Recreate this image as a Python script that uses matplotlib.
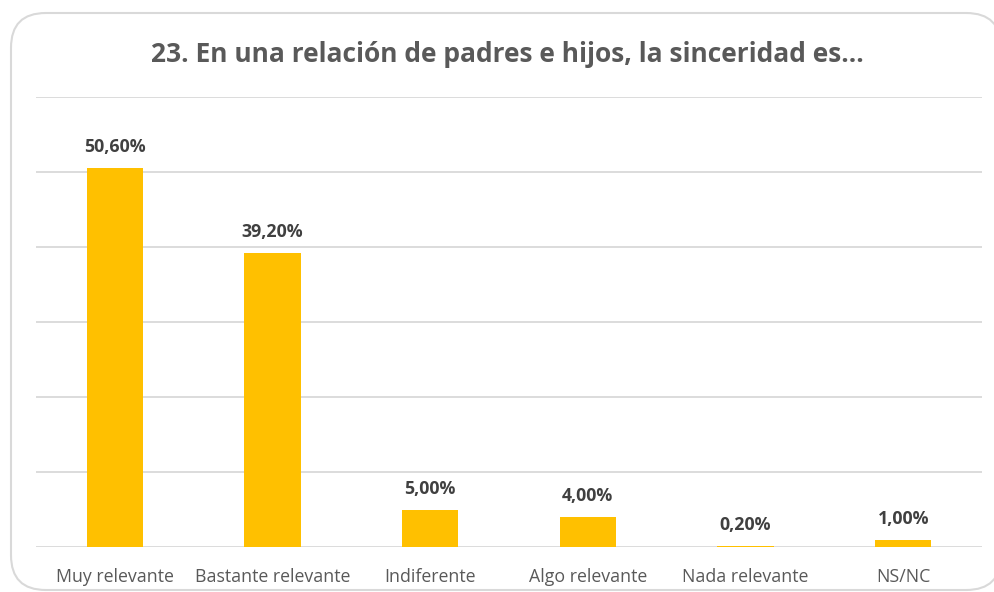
import matplotlib
matplotlib.use("Agg")
import matplotlib.pyplot as plt
from matplotlib.patches import FancyBboxPatch

# datos
categorias = ["Muy relevante", "Bastante relevante", "Indiferente",
              "Algo relevante", "Nada relevante", "NS/NC"]
valores = [50.6, 39.2, 5.0, 4.0, 0.2, 1.0]
etiquetas = ["50,60%", "39,20%", "5,00%", "4,00%", "0,20%", "1,00%"]
titulo = "23. En una relación de padres e hijos, la sinceridad es..."

plt.rcParams['font.family'] = ['Open Sans', 'DejaVu Sans']

fig = plt.figure(figsize=(9.94, 5.92), dpi=100)

# marco redondeado
marco = FancyBboxPatch((11 / 994, 2 / 592), 990 / 994, 577 / 592,
                       boxstyle="round,pad=0,rounding_size=0.035",
                       transform=fig.transFigure, facecolor="white",
                       edgecolor="#d9d9d9", linewidth=1.5,
                       mutation_aspect=994 / 592, zorder=-5)
fig.patches.append(marco)

ax = fig.add_axes([36 / 994, 1 - 547 / 592, 946 / 994, 450 / 592])
ax.set_facecolor("none")
ax.set_zorder(2)

x = list(range(len(categorias)))
ax.bar(x, valores, width=0.357, color="#ffc000", zorder=3)

ax.set_ylim(0, 60)
ax.set_xlim(-0.5, len(categorias) - 0.5)
ax.set_yticks(range(0, 61, 10))
ax.yaxis.grid(True, color="#d9d9d9", linewidth=1.3, zorder=0)
ax.tick_params(axis="y", left=False, labelleft=False)
ax.tick_params(axis="x", length=0, pad=15, labelsize=12.8, labelcolor="#595959")
ax.set_xticks(x)
ax.set_xticklabels(categorias)
for s in ax.spines.values():
    s.set_visible(False)

for xi, v, t in zip(x, valores, etiquetas):
    ax.annotate(t, (xi, v), xytext=(0, 8.5), textcoords="offset points",
                ha="center", va="bottom", fontsize=12.8, fontweight="bold",
                color="#404040")

fig.text(0.51, 1 - 54 / 592, titulo, ha="center", va="center",
         fontsize=19, fontweight="bold", color="#595959")

fig.savefig("out.png", dpi=100)
